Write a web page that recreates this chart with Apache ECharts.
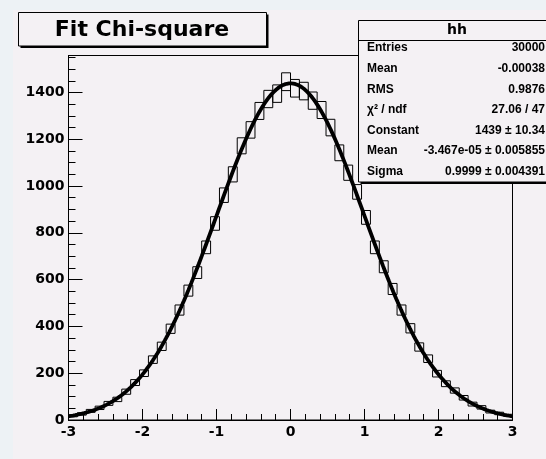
<!DOCTYPE html>
<html><head><meta charset="utf-8">
<script src="https://cdn.jsdelivr.net/npm/echarts@6/dist/echarts.min.js"></script>
<style>
html,body{margin:0;padding:0;background:#edf2f5;}
#pad{position:absolute;left:13px;top:10px;width:533px;height:449px;background:#f4f1f4;}
#c{position:absolute;left:0;top:0;width:546px;height:459px;}
</style>
</head><body><div id="pad"></div><div id="c"></div>
<script>
// ---- data ----
const binLowEdge = -3;
const binHighEdge = 3;
const nBins = 50;
const binCounts = [18, 26, 39, 52, 71, 88, 121, 160, 200, 258,
                   315, 390, 470, 553, 630, 738, 840, 961, 1050, 1172,
                   1240, 1321, 1372, 1395, 1446, 1418, 1406, 1365, 1325, 1250,
                   1142, 1057, 975, 866, 738, 655, 560, 470, 392, 312,
                   262, 198, 155, 126, 95, 68, 54, 36, 28, 20];
const fitConstant = 1439;
const fitMean = -3.467e-05;
const fitSigma = 0.9999;
const yMax = 1558;
const titleText = 'Fit Chi-square';
const statsName = 'hh';
const statsLabels = ['Entries', 'Mean', 'RMS', 'χ² / ndf', 'Constant', 'Mean', 'Sigma'];
const statsValues = ['30000', '-0.00038', '0.9876', '27.06 / 47', '1439 ± 10.34', '-3.467e-05 ± 0.005855', '0.9999 ± 0.004391'];

// ---- build ----
const binW = (binHighEdge - binLowEdge) / nBins;
const histData = binCounts.map((n, i) => [binLowEdge + i * binW, binLowEdge + (i + 1) * binW, n]);
const fitData = [];
for (let k = 0; k <= 600; k++) {
  const x = binLowEdge + k * (binHighEdge - binLowEdge) / 600;
  fitData.push([x, fitConstant * Math.exp(-0.5 * Math.pow((x - fitMean) / fitSigma, 2))]);
}

const BG = '#f4f1f4';
const labFont = {fontFamily: 'DejaVu Sans', fontWeight: 'bold', fontSize: 14, color: '#000'};
const statFont = 'bold 12px "Liberation Sans", Arial, sans-serif';
const plain = v => String(Math.round(v * 1000) / 1000);

const graphics = [];
// title box
graphics.push({type: 'rect', z: 100, shape: {x: 20.5, y: 14.5, width: 248, height: 33.5}, style: {fill: '#000'}});
graphics.push({type: 'rect', z: 101, shape: {x: 18.5, y: 12.5, width: 248, height: 33.5}, style: {fill: BG, stroke: '#000', lineWidth: 1}});
graphics.push({type: 'text', z: 102, x: 142, y: 30, style: {text: titleText, font: 'bold 22px "DejaVu Sans"', fill: '#000', align: 'center', verticalAlign: 'middle'}});
// stats box
graphics.push({type: 'rect', z: 100, shape: {x: 360.5, y: 22.5, width: 200, height: 161.5}, style: {fill: '#000'}});
graphics.push({type: 'rect', z: 101, shape: {x: 358.5, y: 20.5, width: 200, height: 161.5}, style: {fill: BG, stroke: '#000', lineWidth: 1}});
graphics.push({type: 'line', z: 102, shape: {x1: 358.5, y1: 40.5, x2: 546, y2: 40.5}, style: {stroke: '#000', lineWidth: 1}});
graphics.push({type: 'text', z: 102, x: 457, y: 30, style: {text: statsName, font: 'bold 14px "DejaVu Sans"', fill: '#000', align: 'center', verticalAlign: 'middle'}});
statsLabels.forEach((t, i) => {
  const y = 48 + i * 20.6;
  graphics.push({type: 'text', z: 102, x: 367, y: y, style: {text: t, font: statFont, fill: '#000', align: 'left', verticalAlign: 'middle'}});
  graphics.push({type: 'text', z: 102, x: 545, y: y, style: {text: statsValues[i], font: statFont, fill: '#000', align: 'right', verticalAlign: 'middle'}});
});

const chart = echarts.init(document.getElementById('c'), null, {renderer: 'canvas'});
chart.setOption({
  animation: false,
  backgroundColor: 'transparent',
  grid: {left: 68.5, right: 33.5, top: 55.5, bottom: 39, show: true, borderColor: '#000', borderWidth: 1, backgroundColor: 'transparent'},
  xAxis: {
    type: 'value', min: binLowEdge, max: binHighEdge, interval: 1,
    axisLine: {show: true, onZero: false, lineStyle: {color: '#000', width: 1}},
    axisTick: {show: true, inside: true, length: 11, lineStyle: {color: '#000'}},
    minorTick: {show: true, splitNumber: 5, length: 6, lineStyle: {color: '#000'}},
    axisLabel: Object.assign({margin: 5, showMinLabel: true, showMaxLabel: true, formatter: plain}, labFont),
    splitLine: {show: false}
  },
  yAxis: [{
    type: 'value', min: 0, max: yMax, interval: 200, position: 'left',
    axisLine: {show: true, onZero: false, lineStyle: {color: '#000', width: 1}},
    axisTick: {show: true, inside: true, length: 14, lineStyle: {color: '#000'}},
    axisLabel: Object.assign({margin: 4, showMaxLabel: false, formatter: plain}, labFont),
    splitLine: {show: false}
  }, {
    type: 'value', min: 0, max: yMax, interval: 50, position: 'left', offset: 0,
    axisLine: {show: false, onZero: false},
    axisTick: {show: true, inside: true, length: 7, lineStyle: {color: '#000'}},
    axisLabel: {show: false},
    splitLine: {show: false}
  }],
  series: [{
    type: 'custom', xAxisIndex: 0, yAxisIndex: 0, clip: true,
    data: histData,
    encode: {x: [0, 1], y: 2},
    renderItem: function (params, api) {
      const lo = api.value(0), hi = api.value(1), n = api.value(2), e = Math.sqrt(n);
      const p1 = api.coord([lo, n + e]);
      const p2 = api.coord([hi, n - e]);
      return {type: 'rect', shape: {x: p1[0], y: p1[1], width: p2[0] - p1[0], height: p2[1] - p1[1]},
              style: {fill: 'none', stroke: '#000', lineWidth: 1}};
    },
    z: 2
  }, {
    type: 'line', xAxisIndex: 0, yAxisIndex: 0, data: fitData, showSymbol: false, symbol: 'none',
    lineStyle: {color: '#000', width: 3.8}, smooth: false, z: 3
  }],
  graphic: {elements: graphics}
});
</script>
</body></html>
